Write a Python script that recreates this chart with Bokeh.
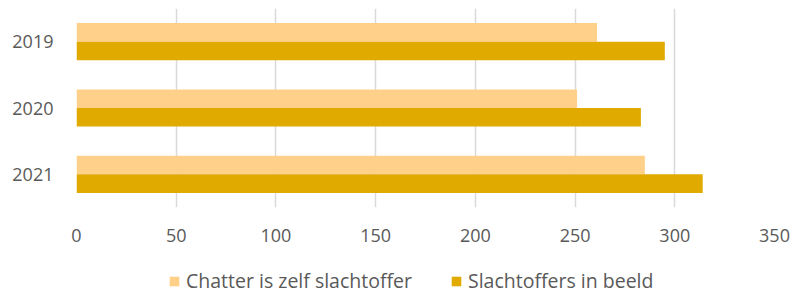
from bokeh.plotting import figure
from bokeh.models import ColumnDataSource, FactorRange, Range1d, Legend, LegendItem
from bokeh.layouts import column
from bokeh.transform import dodge
from bokeh.embed import file_html
from bokeh.resources import INLINE

years = ["2019", "2020", "2021"]
chatter_zelf = [261, 251, 285]
slachtoffers_beeld = [295, 283, 314]
series_names = ["Chatter is zelf slachtoffer", "Slachtoffers in beeld"]
x_ticks = [0, 50, 100, 150, 200, 250, 300, 350]

LIGHT = "#FFD08A"
DARK = "#E0AA00"
TXT = "#595959"
FONT = "Open Sans"

src = ColumnDataSource(dict(year=years, a=chatter_zelf, b=slachtoffers_beeld))

p = figure(width=793, height=250, output_backend="svg", toolbar_location=None,
           y_range=FactorRange(*reversed(years)), x_range=Range1d(0, 350),
           min_border_left=76, min_border_right=19, min_border_top=8,
           min_border_bottom=43)
p.outline_line_color = None

r1 = p.hbar(y=dodge("year", 0.14, range=p.y_range), height=0.28, left=0, right="a",
            source=src, fill_color=LIGHT, line_color=None)
r2 = p.hbar(y=dodge("year", -0.14, range=p.y_range), height=0.28, left=0, right="b",
            source=src, fill_color=DARK, line_color=None)

p.xaxis.ticker = x_ticks
p.xgrid.grid_line_color = "#D9D9D9"
p.xgrid.grid_line_width = 1.5
p.ygrid.grid_line_color = None

for ax in (p.xaxis[0], p.yaxis[0]):
    ax.axis_line_color = None
    ax.major_tick_line_color = None
    ax.minor_tick_line_color = None
    ax.major_label_text_font = FONT
    ax.major_label_text_font_size = "18px"
    ax.major_label_text_color = TXT
p.xaxis.major_label_standoff = 15
p.yaxis.major_label_standoff = 17

# legend strip (its renderers are hidden; they only supply the legend swatches)
lg = figure(width=793, height=46, output_backend="svg", toolbar_location=None,
            x_range=Range1d(0, 1), y_range=Range1d(0, 1),
            x_axis_location=None, y_axis_location=None,
            min_border_left=0, min_border_right=0, min_border_top=0, min_border_bottom=0)
lg.outline_line_color = None
lg.xgrid.grid_line_color = None
lg.ygrid.grid_line_color = None
e1 = lg.hbar(y="a", right="a", height=0.28, source=src, fill_color=LIGHT,
             line_color=None, visible=False)
e2 = lg.hbar(y="b", right="b", height=0.28, source=src, fill_color=DARK,
             line_color=None, visible=False)

legend = Legend(items=[LegendItem(label=series_names[0], renderers=[e1]),
                       LegendItem(label=series_names[1], renderers=[e2])],
                orientation="horizontal", location=(92, 2),
                label_text_font=FONT, label_text_font_size="19.5px",
                label_text_color=TXT, glyph_width=12, glyph_height=12,
                label_standoff=6, spacing=38, border_line_color=None,
                background_fill_alpha=0, padding=0, margin=0)
lg.add_layout(legend, "center")

open("out.html", "w").write(file_html(column(p, lg, spacing=0), INLINE))
